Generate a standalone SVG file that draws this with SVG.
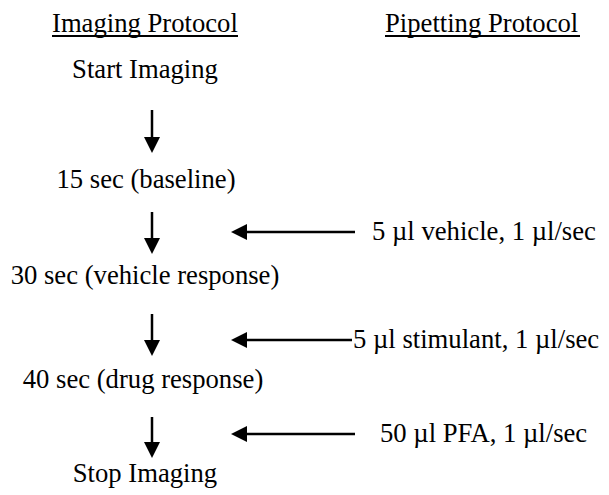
<svg xmlns="http://www.w3.org/2000/svg" width="609" height="495" viewBox="0 0 609 495">
<style>
text{font-family:"Liberation Serif","Times New Roman",serif;font-size:26.67px;fill:#000}
.c{text-anchor:middle}
.conn line{stroke:#000;stroke-width:2.5}
.ul{stroke:#000;stroke-width:2}
</style>
<defs>
<marker id="ah" markerUnits="userSpaceOnUse" markerWidth="16" markerHeight="16" refX="0" refY="8" orient="auto" viewBox="0 0 16 16">
<path d="M0,0 L16,8 L0,16 z" fill="#000"/>
</marker>
</defs>
<rect width="609" height="495" fill="#fff"/>
<g id="hdr-imaging"><text x="52" y="32">Imaging Protocol</text><line class="ul" x1="52" y1="36" x2="238" y2="36"/></g>
<g id="hdr-pipetting"><text x="385" y="32">Pipetting Protocol</text><line class="ul" x1="385" y1="36" x2="580" y2="36"/></g>
<g id="start"><text class="c" x="145" y="78">Start Imaging</text></g>
<g id="baseline"><text class="c" x="146" y="188">15 sec (baseline)</text></g>
<g id="vehresp"><text class="c" x="145" y="284">30 sec (vehicle response)</text></g>
<g id="drugresp"><text class="c" x="143" y="388">40 sec (drug response)</text></g>
<g id="stop"><text class="c" x="145" y="482">Stop Imaging</text></g>
<g id="vehicle"><text x="372" y="240">5 µl vehicle, 1 µl/sec</text></g>
<g id="stimulant"><text x="353" y="348">5 µl stimulant, 1 µl/sec</text></g>
<g id="pfa"><text x="380" y="442">50 µl PFA, 1 µl/sec</text></g>
<g id="connectors" class="conn">
<line x1="152" y1="110" x2="152" y2="137" marker-end="url(#ah)"/>
<line x1="152" y1="212" x2="152" y2="238" marker-end="url(#ah)"/>
<line x1="152" y1="314" x2="152" y2="340" marker-end="url(#ah)"/>
<line x1="152" y1="417" x2="152" y2="442" marker-end="url(#ah)"/>
<line x1="355" y1="232" x2="247" y2="232" marker-end="url(#ah)"/>
<line x1="352" y1="340" x2="247" y2="340" marker-end="url(#ah)"/>
<line x1="355" y1="434" x2="247" y2="434" marker-end="url(#ah)"/>
</g>
</svg>
